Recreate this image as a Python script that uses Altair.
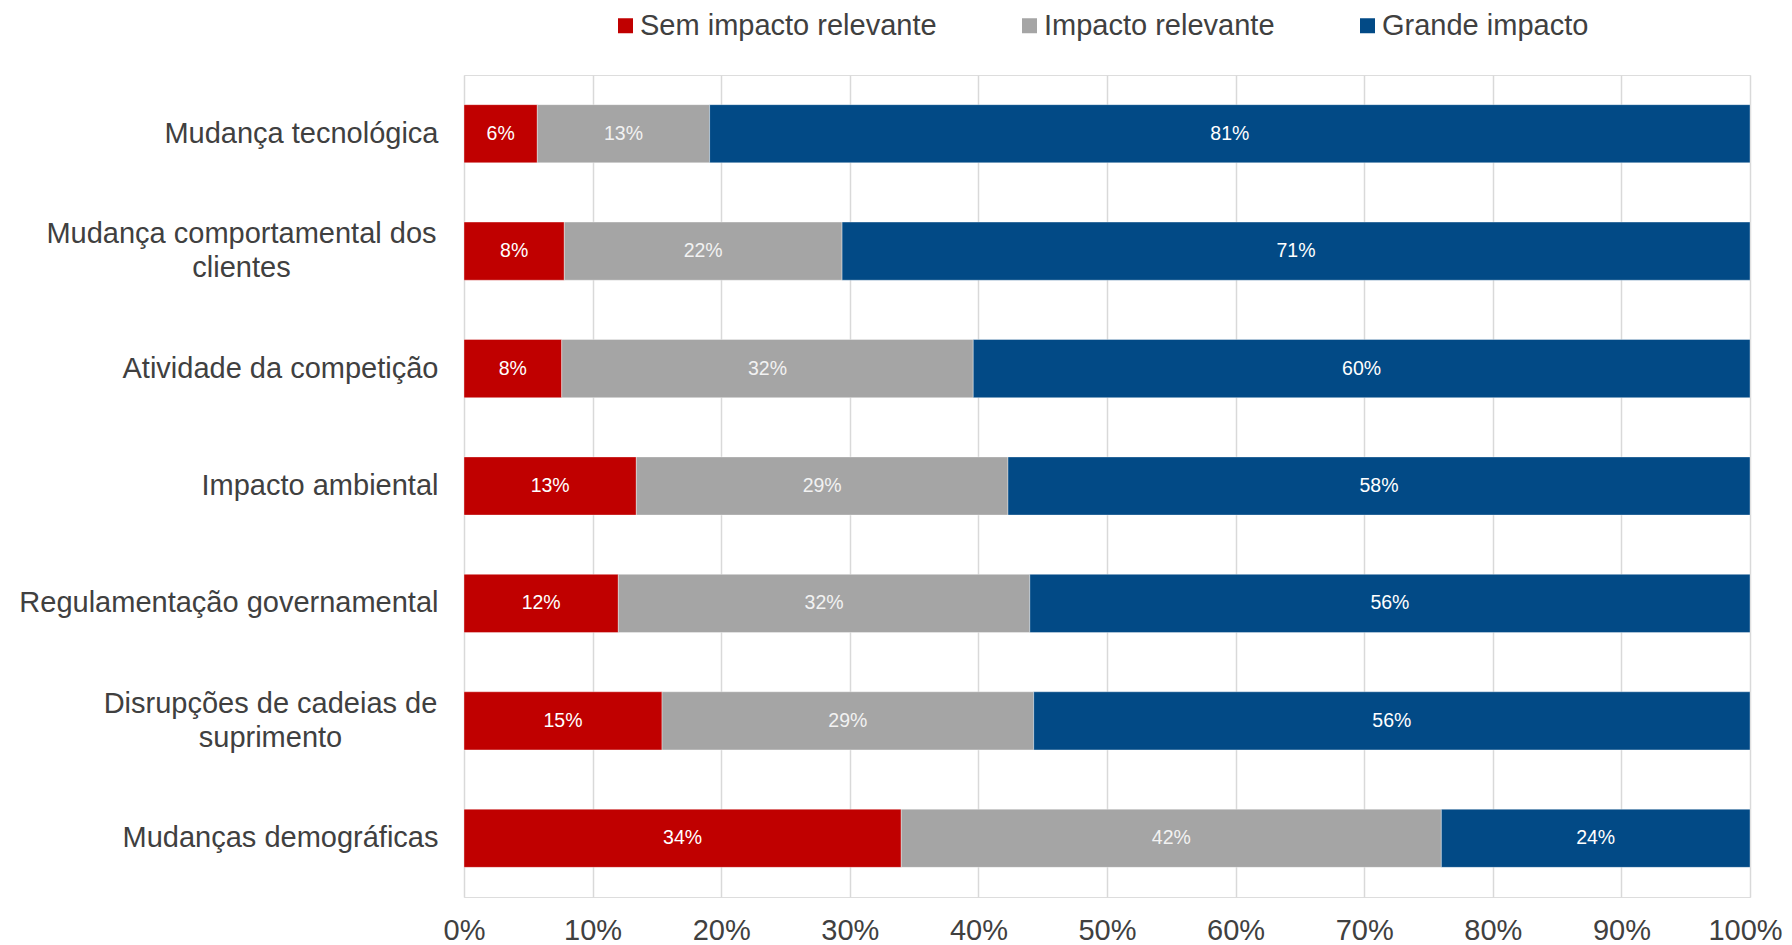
import altair as alt
import pandas as pd

categories = [
    "Mudança tecnológica",
    "Mudança comportamental dos clientes",
    "Atividade da competição",
    "Impacto ambiental",
    "Regulamentação governamental",
    "Disrupções de cadeias de suprimento",
    "Mudanças demográficas",
]
label_lines = {
    "Mudança comportamental dos clientes": ["Mudança comportamental dos", "clientes"],
    "Disrupções de cadeias de suprimento": ["Disrupções de cadeias de", "suprimento"],
}
series = ["Sem impacto relevante", "Impacto relevante", "Grande impacto"]
colors = ["#C00000", "#A5A5A5", "#024A86"]

sem_impacto = [0.057, 0.078, 0.076, 0.134, 0.120, 0.154, 0.340]
impacto_relevante = [0.134, 0.216, 0.320, 0.289, 0.320, 0.289, 0.420]
grande_impacto = [0.809, 0.706, 0.604, 0.577, 0.560, 0.557, 0.240]
x_ticks = [0, 0.1, 0.2, 0.3, 0.4, 0.5, 0.6, 0.7, 0.8, 0.9, 1.0]

rows = []
for i, c in enumerate(categories):
    for k, (s, vals) in enumerate(zip(series, [sem_impacto, impacto_relevante, grande_impacto])):
        rows.append({"cat": c, "series": s, "ord": k, "value": vals[i]})
df = pd.DataFrame(rows)

FONT = "Liberation Sans"
TXT = "#404040"
FS = 29

label_expr = " : ".join(
    [f"datum.value == '{k}' ? {v!r}" for k, v in label_lines.items()] + ["datum.value"]
)

pad = 26
half_first = {"Mudança comportamental dos clientes": 197, "Disrupções de cadeias de suprimento": 168}

y_axis = alt.Axis(
    title=None,
    ticks=False,
    domain=False,
    labelFont=FONT,
    labelFontSize=FS,
    labelColor=TXT,
    labelLimit=600,
    labelLineHeight=34,
    labelExpr=label_expr,
    labelAlign={
        "condition": [
            {"test": f"datum.value == '{k}'", "value": "center"} for k in half_first
        ],
        "value": "right",
    },
    labelPadding={
        "condition": [
            {"test": f"datum.value == '{k}'", "value": pad + v} for k, v in half_first.items()
        ],
        "value": pad,
    },
    labelOffset={
        "condition": [
            {"test": f"datum.value == '{k}'", "value": -17} for k in half_first
        ],
        "value": 0,
    },
)

y_enc = alt.Y(
    "cat:N",
    sort=categories,
    axis=y_axis,
    scale=alt.Scale(paddingInner=0.505, paddingOuter=0.2525),
)

base = alt.Chart(df)

bars = base.mark_bar(stroke="#FFFFFF", strokeWidth=0.6, strokeOpacity=0.6).encode(
    y=y_enc,
    x=alt.X(
        "value:Q",
        stack="zero",
        scale=alt.Scale(domain=[0, 1], nice=False),
        axis=alt.Axis(
            title=None,
            format=".0%",
            values=x_ticks,
            ticks=False,
            domain=False,
            grid=True,
            gridColor="#D9D9D9",
            gridWidth=1.5,
            labelFont=FONT,
            labelFontSize=FS,
            labelColor=TXT,
            labelPadding=19,
            labelFlush=False,
            labelOffset={
                "condition": {"test": "datum.value >= 1", "value": -5},
                "value": 0,
            },
        ),
    ),
    color=alt.Color(
        "series:N",
        sort=series,
        scale=alt.Scale(domain=series, range=colors),
        legend=alt.Legend(
            title=None,
            orient="none",
            direction="horizontal",
            legendX=147,
            legendY=-64,
            symbolType="square",
            symbolSize=225,
            symbolStrokeWidth=0,
            labelFont=FONT,
            labelFontSize=FS,
            labelColor=TXT,
            labelOffset=0,
            columnPadding=78,
            labelLimit=500,
        ),
    ),
    order=alt.Order("ord:Q"),
)

texts = (
    base.transform_stack(
        stack="value", groupby=["cat"], as_=["x0", "x1"], sort=[alt.SortField("ord")]
    )
    .transform_calculate(mid="(datum.x0 + datum.x1) / 2", label="format(datum.value, '.0%')")
    .mark_text(font=FONT, fontSize=19.5, align="center", baseline="middle")
    .encode(
        y=alt.Y("cat:N", sort=categories),
        x=alt.X("mid:Q"),
        text="label:N",
        color=alt.condition(
            "datum.series == 'Impacto relevante'", alt.value("#F2F2F2"), alt.value("#FFFFFF")
        ),
    )
)

chart = (
    alt.layer(bars, texts)
    .properties(
        width=1286,
        height=822,
        autosize=alt.AutoSizeParams(type="none"),
        padding={"left": 456, "top": 67, "right": 34, "bottom": 48},
    )
    .configure_view(stroke=None)
    .configure(background="white")
)

chart.save("out.html", embed_options={"renderer": "svg", "actions": False})
